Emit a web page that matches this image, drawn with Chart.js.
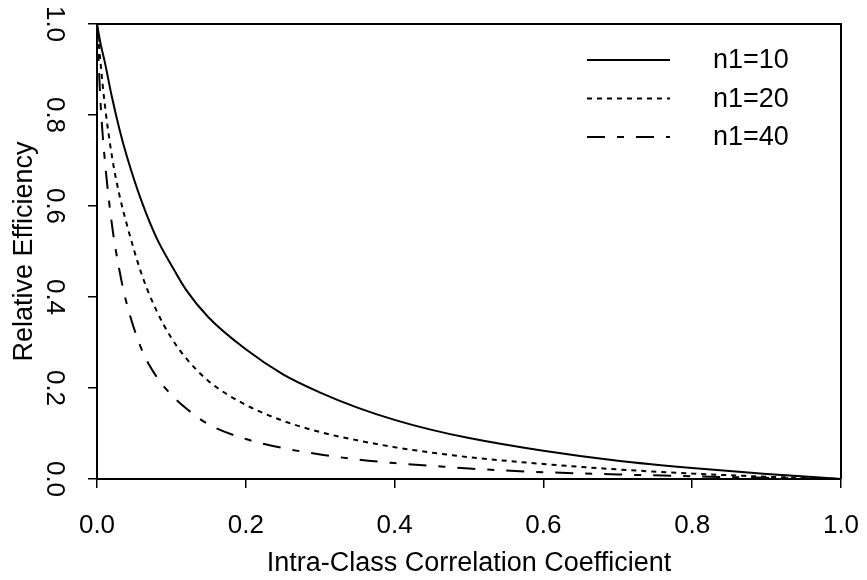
<!DOCTYPE html>
<html>
<head>
<meta charset="utf-8">
<script src="https://cdn.jsdelivr.net/npm/chart.js@4.4.0/dist/chart.umd.min.js"></script>
<style>
  html, body { margin: 0; padding: 0; background: #fff; }
</style>
</head>
<body>
<canvas id="chart" width="867" height="580"></canvas>
<script>
// intra-class correlation (x) and relative efficiency
const icc    = [0, 0.005, 0.01, 0.02, 0.03, 0.04, 0.06, 0.08, 0.10, 0.12, 0.15, 0.20, 0.25, 0.30, 0.35, 0.40, 0.45, 0.50, 0.60, 0.70, 0.80, 0.90, 1.0];
const re_n10 = [1.0, 0.955, 0.92, 0.84, 0.77, 0.71, 0.61, 0.53, 0.47, 0.415, 0.355, 0.285, 0.23, 0.19, 0.157, 0.13, 0.108, 0.09, 0.062, 0.040, 0.024, 0.011, 0];
const re_n20 = [1.0, 0.91, 0.83, 0.71, 0.625, 0.56, 0.45, 0.37, 0.31, 0.265, 0.215, 0.163, 0.128, 0.103, 0.085, 0.07, 0.058, 0.048, 0.033, 0.021, 0.012, 0.005, 0];
const re_n40 = [1.0, 0.82, 0.71, 0.56, 0.46, 0.385, 0.285, 0.225, 0.185, 0.155, 0.12, 0.088, 0.068, 0.054, 0.043, 0.035, 0.029, 0.023, 0.015, 0.010, 0.006, 0.0025, 0];
const series_labels = ['n1=10', 'n1=20', 'n1=40'];

const family = 'Liberation Sans, Arial, sans-serif';
const tickFont = { family: family, size: 26 };
const titleFont = { family: family, size: 27 };

function points(values) {
    return icc.map((x, i) => ({ x: x, y: values[i] }));
}

function makeDataset(label, values, dash) {
    return {
        label: label,
        data: points(values),
        borderColor: '#000',
        borderWidth: 2,
        borderDash: dash,
        pointRadius: 0,
        fill: false,
        cubicInterpolationMode: 'monotone'
    };
}

// legend drawn inside the plot, top right
const lineLegend = {
    id: 'lineLegend',
    afterDraw(chart) {
        const ctx = chart.ctx;
        chart.data.datasets.forEach((ds, i) => {
            const y = 60 + i * 38.5;
            ctx.save();
            ctx.strokeStyle = ds.borderColor;
            ctx.lineWidth = ds.borderWidth;
            ctx.setLineDash(ds.borderDash || []);
            ctx.beginPath();
            ctx.moveTo(587, y);
            ctx.lineTo(670, y);
            ctx.stroke();
            ctx.setLineDash([]);
            ctx.fillStyle = '#000';
            ctx.font = titleFont.size + 'px ' + family;
            ctx.textBaseline = 'middle';
            ctx.fillText(ds.label, 713, y + 1);
            ctx.restore();
        });
    }
};

// top and right frame lines
const frame = {
    id: 'frame',
    afterDraw(chart) {
        const { ctx, chartArea: a } = chart;
        ctx.save();
        ctx.strokeStyle = '#000';
        ctx.lineWidth = 2;
        ctx.beginPath();
        ctx.moveTo(a.left, a.top);
        ctx.lineTo(a.right, a.top);
        ctx.lineTo(a.right, a.bottom);
        ctx.stroke();
        ctx.restore();
    }
};

new Chart(document.getElementById('chart'), {
    type: 'line',
    data: {
        datasets: [
            makeDataset(series_labels[0], re_n10, []),
            makeDataset(series_labels[1], re_n20, [5, 5]),
            makeDataset(series_labels[2], re_n40, [18, 12, 7, 12])
        ]
    },
    options: {
        responsive: false,
        animation: false,
        layout: { padding: { left: 0, top: 24, right: 26, bottom: 0 } },
        plugins: {
            legend: { display: false },
            tooltip: { enabled: false }
        },
        scales: {
            x: {
                type: 'linear',
                min: 0,
                max: 1,
                ticks: { stepSize: 0.2, padding: 22, color: '#000', font: tickFont, callback: v => v.toFixed(1) },
                grid: { drawOnChartArea: false, drawTicks: true, tickLength: 9, color: '#000', lineWidth: 1.5 },
                border: { display: true, color: '#000', width: 2 },
                title: { display: true, text: 'Intra-Class Correlation Coefficient', color: '#000', font: titleFont, padding: { top: 0, bottom: 0 } },
                afterFit(scale) {
                    scale.height = 101;
                    scale.paddingLeft = 0;
                    scale.paddingRight = 0;
                }
            },
            y: {
                min: 0,
                max: 1,
                ticks: { stepSize: 0.2, minRotation: -90, maxRotation: -90, crossAlign: 'center', padding: 16, color: '#000', font: tickFont, callback: v => v.toFixed(1) },
                grid: { drawOnChartArea: false, drawTicks: true, tickLength: 9, color: '#000', lineWidth: 1.5 },
                border: { display: true, color: '#000', width: 2 },
                title: { display: true, text: 'Relative Efficiency', color: '#000', font: titleFont, padding: { top: 8, bottom: 0 } },
                afterFit(scale) {
                    scale.width = 97;
                    scale.paddingTop = 0;
                    scale.paddingBottom = 0;
                }
            }
        }
    },
    plugins: [lineLegend, frame]
});
</script>
</body>
</html>
